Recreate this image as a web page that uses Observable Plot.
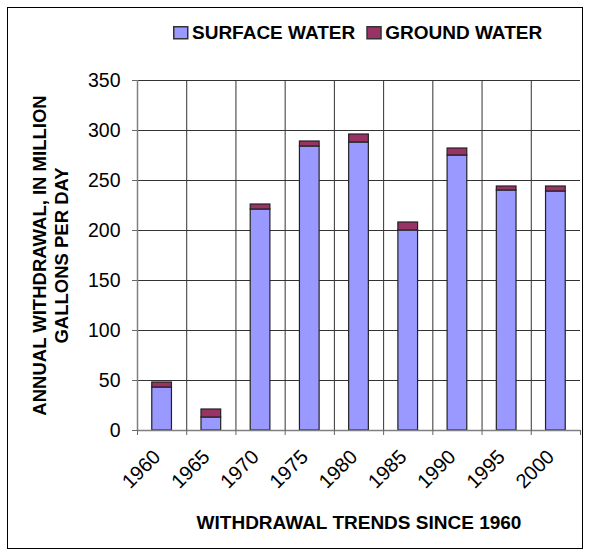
<!DOCTYPE html>
<html>
<head>
<meta charset="utf-8">
<script src="https://cdn.jsdelivr.net/npm/d3@7"></script>
<script src="https://cdn.jsdelivr.net/npm/@observablehq/plot@0.6"></script>
<style>
  body { margin: 0; background: #fff; font-family: "Liberation Sans", Arial, sans-serif; }
  #wrap { position: relative; width: 590px; height: 555px; overflow: hidden; }
  #frame { position: absolute; left: 7px; top: 7px; width: 576px; height: 542px; border: 1px solid #000; box-sizing: border-box; pointer-events: none; }
  #legend { position: absolute; top: 18px; left: 169px; }
  #chart { position: absolute; left: 0; top: 0; }
</style>
</head>
<body>
<div id="wrap">
  <div id="chart"></div>
  <div id="legend"></div>
  <div id="frame"></div>
</div>
<script>
const years = ["1960", "1965", "1970", "1975", "1980", "1985", "1990", "1995", "2000"];
const surfaceWater = [43, 13, 221, 284, 288, 200, 275, 240, 239];
const groundWater = [5, 8, 5, 5, 8, 8, 7, 4, 5];
const seriesNames = ["SURFACE WATER", "GROUND WATER"];
const seriesColors = ["#9999FF", "#993366"];
const yTicks = [0, 50, 100, 150, 200, 250, 300, 350];
const yLabel = "ANNUAL WITHDRAWAL, IN MILLION\nGALLONS PER DAY";
const xLabel = "WITHDRAWAL TRENDS SINCE 1960";

// build stacked table
const rows = [];
years.forEach((yr, i) => {
  rows.push({i, year: yr, type: seriesNames[0], y1: 0, y2: surfaceWater[i]});
  rows.push({i, year: yr, type: seriesNames[1], y1: surfaceWater[i], y2: surfaceWater[i] + groundWater[i]});
});

const idx = d3.range(years.length);
const bounds = d3.range(years.length + 1);

const chart = Plot.plot({
  width: 590,
  height: 555,
  marginLeft: 137,
  marginRight: 10,
  marginTop: 80,
  marginBottom: 125,
  style: { fontFamily: "'Liberation Sans', Arial, sans-serif", color: "#000", background: "transparent" },
  x: { type: "linear", domain: [0, years.length], axis: null },
  y: { domain: [0, 350], axis: null },
  color: { domain: seriesNames, range: seriesColors },
  marks: [
    Plot.gridX(idx, { stroke: "#333", strokeOpacity: 1, strokeWidth: 1 }),
    Plot.gridY(yTicks.filter(d => d > 0), { stroke: "#333", strokeOpacity: 1, strokeWidth: 1 }),
    Plot.rect(rows, {
      x1: d => d.i + 0.3,
      x2: d => d.i + 0.7,
      y1: "y1",
      y2: "y2",
      fill: "type",
      stroke: "#222",
      strokeWidth: 1.2
    }),
    Plot.ruleX([0], { stroke: "#808080", strokeWidth: 1.5 }),
    Plot.ruleY([0], { stroke: "#808080", strokeWidth: 1.5 }),
    Plot.axisY(yTicks, { tickSize: 5, tickPadding: 12, fontSize: 19.5, stroke: "#666", tickFormat: d => String(d) }),
    Plot.axisX(bounds, { tickSize: 5, tickFormat: () => "", stroke: "#666" }),
    Plot.axisX(idx.map(i => i + 0.5), {
      tickSize: 0,
      tickRotate: -45,
      tickPadding: 20,
      dx: -5,
      dy: 3,
      fontSize: 20,
      tickFormat: d => years[Math.floor(d)]
    }),
    Plot.text([yLabel], {
      frameAnchor: "left",
      rotate: -90,
      dx: -88,
      fontSize: 18.5,
      fontWeight: "bold",
      lineHeight: 1.2,
      lineAnchor: "middle",
      textAnchor: "middle",
      fill: "#000"
    }),
    Plot.text([xLabel], {
      frameAnchor: "bottom",
      dy: 92,
      fontSize: 19,
      fontWeight: "bold",
      lineAnchor: "middle",
      fill: "#000"
    })
  ]
});
document.getElementById("chart").appendChild(chart);

// legend drawn as a small svg
const lg = d3.select("#legend").append("svg").attr("width", 400).attr("height", 30)
  .style("font-family", "'Liberation Sans', Arial, sans-serif");
let xoff = 4;
seriesNames.forEach((name, k) => {
  lg.append("rect").attr("x", xoff + 0.75).attr("y", 8.75).attr("width", 14).attr("height", 12)
    .attr("fill", seriesColors[k]).attr("stroke", "#333").attr("stroke-width", 1.5);
  const t = lg.append("text").attr("x", xoff + 19).attr("y", 21)
    .attr("font-size", 19).attr("font-weight", "bold").attr("fill", "#000").text(name);
  xoff += 19 + t.node().getComputedTextLength() + 11;
});
</script>
</body>
</html>
